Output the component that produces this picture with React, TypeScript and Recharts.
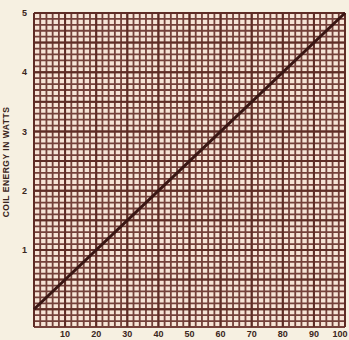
import { LineChart, Line, XAxis, YAxis, CartesianGrid } from "recharts"

// values
const watts = [0, 2.5, 5]
const percent = [0, 50, 100]
const xTicks = [10, 20, 30, 40, 50, 60, 70, 80, 90, 100]
const yTicks = [1, 2, 3, 4, 5]

const data = percent.map((p, i) => ({ p, w: watts[i] }))

// fine grid every 2 along x, every 0.1 along y
const fineX: number[] = []
for (let v = 0; v <= 100; v += 2) fineX.push(v)
const fineY: number[] = []
for (let v = -3; v <= 50; v += 1) fineY.push(v / 10)
const majorX = [0, 10, 20, 30, 40, 50, 60, 70, 80, 90, 100]
const majorY = [0, 0.5, 1, 1.5, 2, 2.5, 3, 3.5, 4, 4.5, 5]

const ink = "#74413a"
const text = "#3b2620"

const XTick = (props: any) => {
  const { x, y, payload } = props
  const shift = payload.value === 100 ? -5 : 0
  return (
    <text x={x + shift} y={y} dy="0.71em" textAnchor="middle" fill={text} fontSize={9} fontWeight={700}>
      {payload.value}
    </text>
  )
}

export default function App() {
  return (
    <div style={{ width: 349, height: 340, background: "#f6f0e1" }}>
      <style>{`body{margin:0}`}</style>
      <LineChart
        width={349}
        height={340}
        data={data}
        margin={{ top: 13, right: 4, bottom: 0, left: 0 }}
        style={{ fontFamily: "'Liberation Sans', Arial, sans-serif" }}
      >
        <CartesianGrid
          horizontalValues={fineY}
          verticalValues={fineX}
          stroke={ink}
          strokeWidth={1.8}
          strokeOpacity={1}
          fill="#f6e4d6"
          fillOpacity={1}
        />
        <CartesianGrid
          horizontalValues={majorY}
          verticalValues={majorX}
          stroke="#5e2c25"
          strokeWidth={2}
        />
        <XAxis
          dataKey="p"
          type="number"
          domain={[0, 100]}
          ticks={xTicks}
          tickLine={false}
          axisLine={false}
          tickSize={0}
          tickMargin={4}
          height={13}
          interval={0}
          tick={<XTick />}
        />
        <YAxis
          type="number"
          domain={[-0.3, 5]}
          ticks={yTicks}
          tickLine={false}
          axisLine={false}
          tickSize={0}
          tickMargin={7}
          width={34}
          interval={0}
          tick={{ fill: text, fontSize: 9, fontWeight: 700 }}
          label={{
            value: "COIL ENERGY IN WATTS",
            angle: -90,
            position: "insideLeft",
            offset: 6,
            dy: -8,
            style: { fill: text, fontSize: 8.5, fontWeight: 700, letterSpacing: 0.5, textAnchor: "middle" },
          }}
        />
        <Line
          dataKey="w"
          type="linear"
          stroke="#3a1714"
          strokeWidth={3}
          dot={false}
          isAnimationActive={false}
        />
      </LineChart>
    </div>
  )
}
